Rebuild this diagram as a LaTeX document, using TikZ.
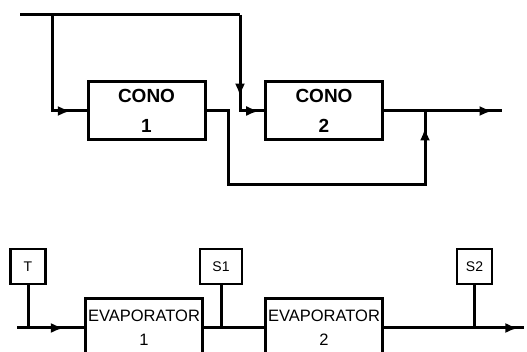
\documentclass[tikz,border=0pt]{standalone}
\usepackage{fontspec}
\setmainfont{Liberation Sans}
\usetikzlibrary{arrows.meta, positioning, decorations.markings}

\begin{document}
\begin{tikzpicture}[
  x=1pt, y=-1pt,
  line width=3pt,
  box/.style={draw, line width=3pt, fill=white, minimum width=117pt, minimum height=58pt,
              inner sep=0pt, align=center},
  cono/.style={box, font=\bfseries\fontsize{19}{30}\selectfont},
  evap/.style={box, font=\fontsize{16.5}{24}\selectfont},
  tag/.style={draw, line width=2.6pt, fill=white, minimum height=35pt, minimum width=35pt,
              inner sep=0pt, font=\fontsize{14}{15}\selectfont},
  ar/.style={postaction={decorate, decoration={markings,
             mark=at position #1 with {\arrow{Latex[length=13pt,width=10pt]}}}}}
]
\useasboundingbox (0,0) rectangle (527,352);
\clip (0,0) rectangle (527,352);

% top: two condensers
\node[cono] (cono1) at (146.5,111) {CONO\\1};
\node[cono] (cono2) at (324,111) {CONO\\2};

\coordinate (feed) at (20,15);
\coordinate (split) at (52,15);
\coordinate (topr) at (240,15);
\coordinate (drop) at (228,111);
\coordinate (join) at (425,111);
\coordinate (out) at (502,111);

\draw (feed) -- (topr);
\draw[ar=0.88] (split) |- (cono1.west);
\draw[ar=0.68, ar=0.96] (topr) |- (cono2.west);
\draw[ar=0.955] (cono1.east) -- (drop) -- (228,185) -| (join);
\draw[ar=0.92] (cono2.east) -- (out);

% bottom: two evaporators with sensors
\node[evap] (evap1) at (144,328) {EVAPORATOR\\1};
\node[evap] (evap2) at (324,328) {EVAPORATOR\\2};

\node[tag] (t) at (28,266.5) {T};
\node[tag, minimum width=42pt] (s1) at (221,266.5) {S1};
\node[tag] (s2) at (474.5,266.5) {S2};

\coordinate (in) at (17,328);
\coordinate (tj) at (28,328);
\coordinate (s1j) at (221,328);
\coordinate (s2j) at (474.5,328);
\coordinate (end) at (524,328);

\draw[ar=0.7] (in) -- (evap1.west);
\draw (t) -- (tj);
\draw (evap1.east) -- (evap2.west);
\draw (s1) -- (s1j);
\draw[ar=0.96] (evap2.east) -- (end);
\draw (s2) -- (s2j);
\end{tikzpicture}
\end{document}
